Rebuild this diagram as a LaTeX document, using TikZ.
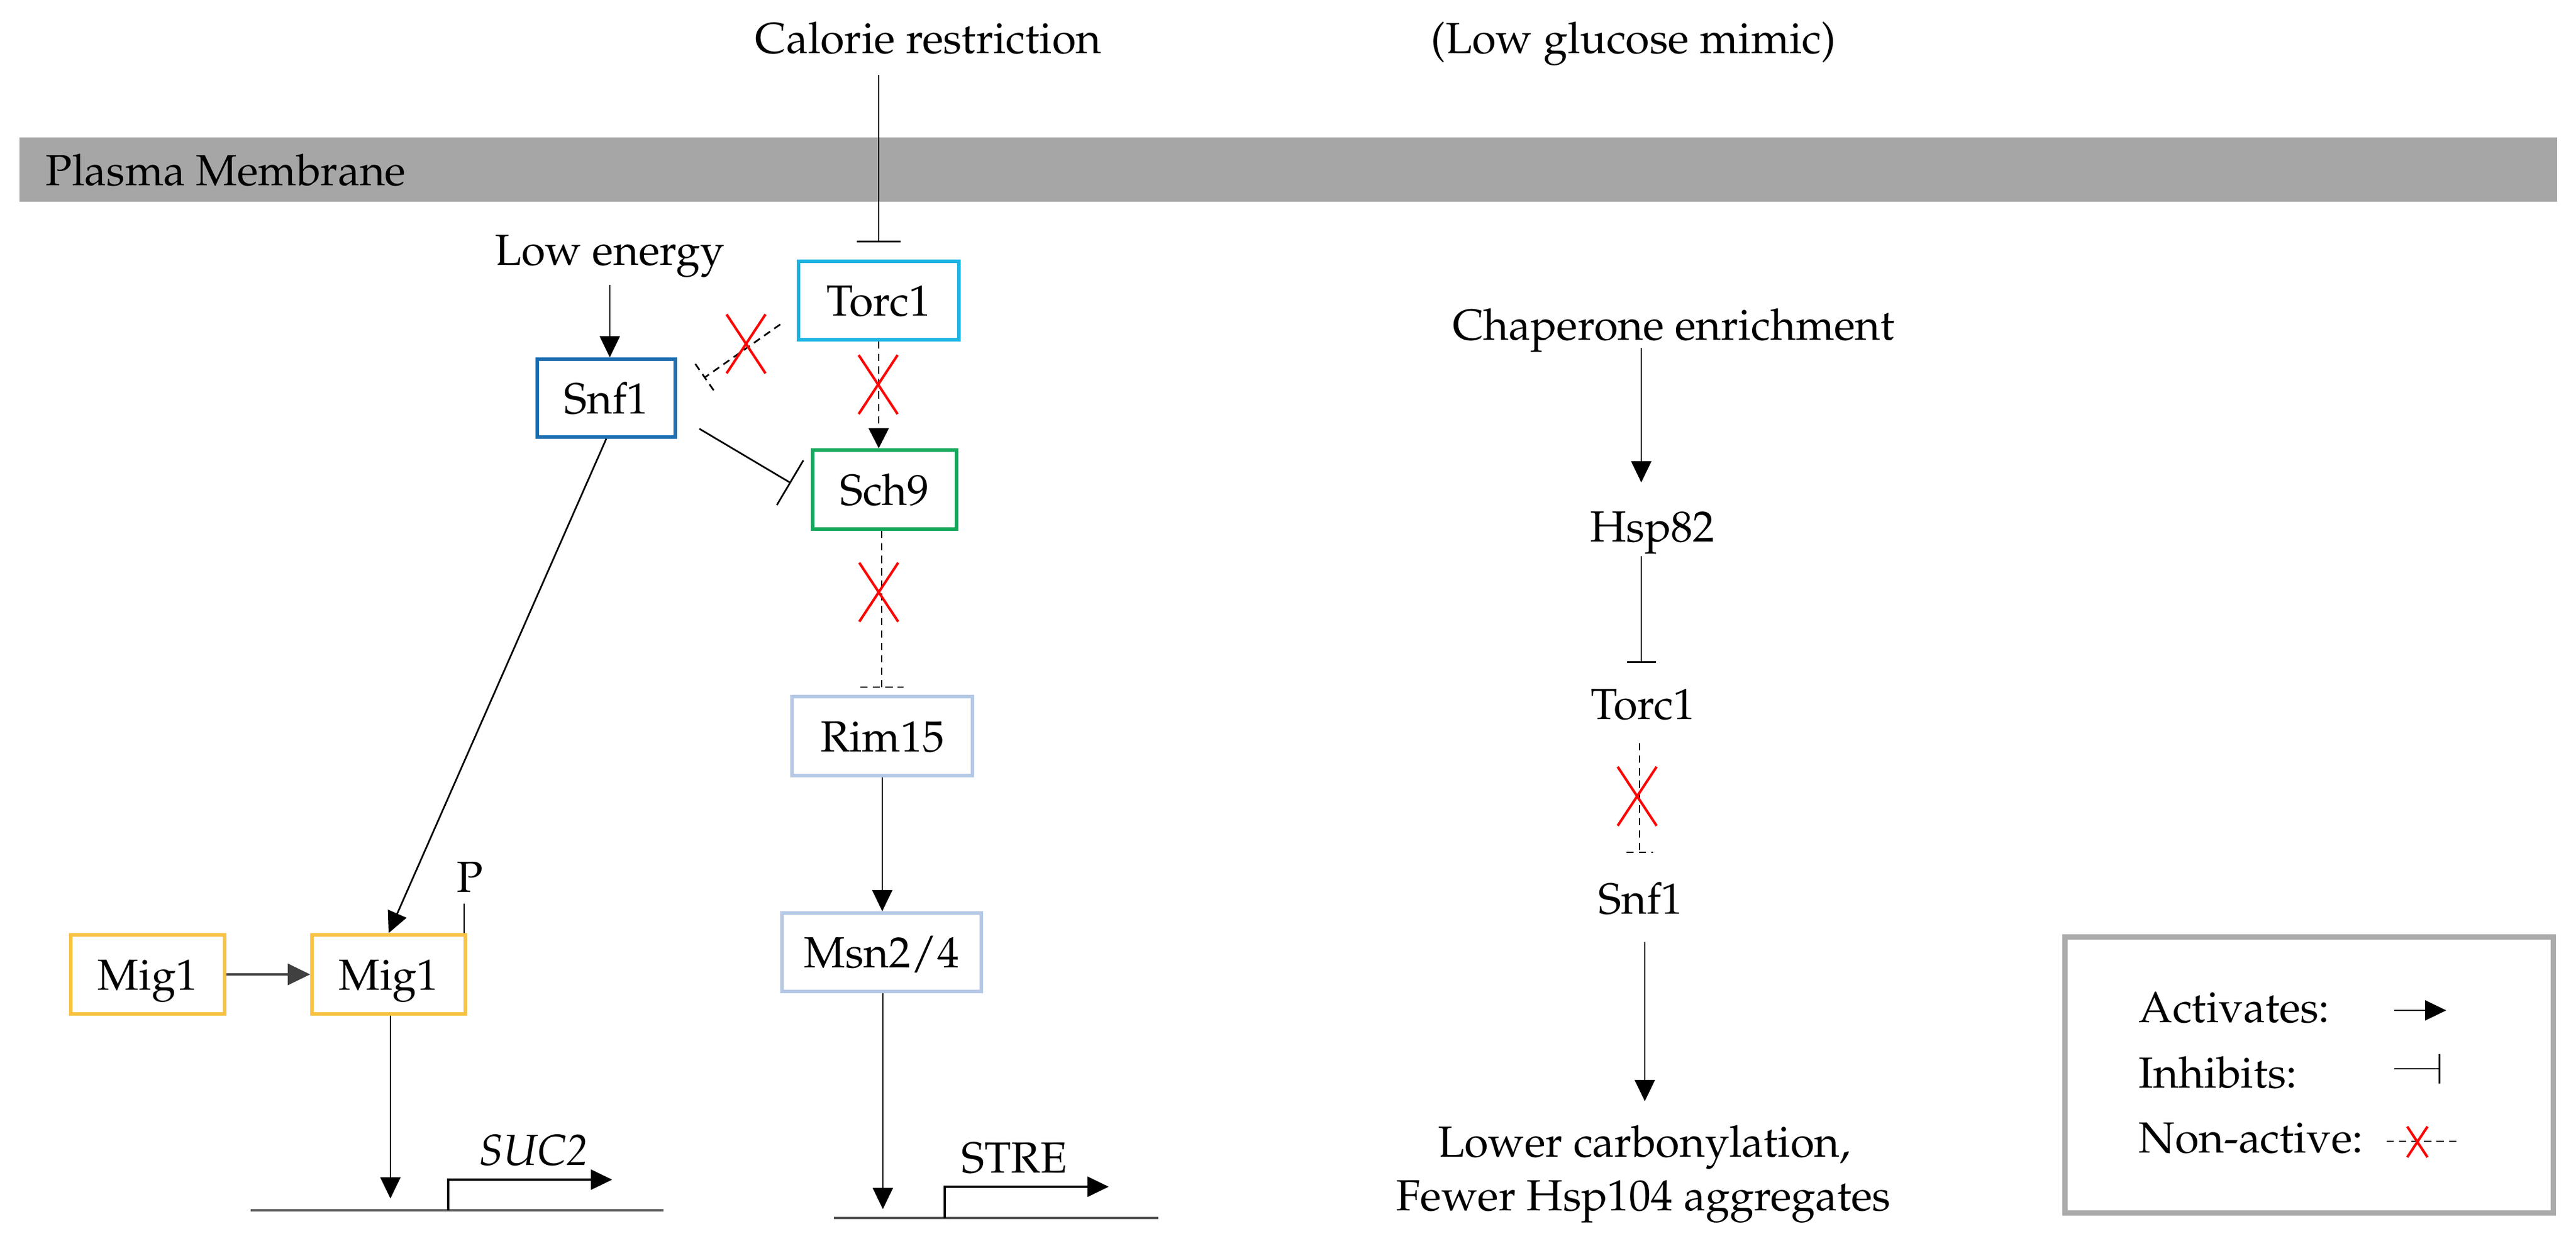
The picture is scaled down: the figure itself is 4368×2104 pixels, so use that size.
\documentclass[tikz,border=0pt]{standalone}
\usepackage[T1]{fontenc}
\usepackage{mathpazo}
\usetikzlibrary{arrows.meta,calc}
\definecolor{torcC}{HTML}{1EB4E2}
\definecolor{snfC}{HTML}{1C6EB2}
\definecolor{schC}{HTML}{14A85A}
\definecolor{rimC}{HTML}{B5C8E5}
\definecolor{migC}{HTML}{F8C244}
\definecolor{membC}{HTML}{A6A6A6}
\definecolor{legC}{HTML}{ABABAB}
\newcommand{\fs}{\fontsize{21}{25}\selectfont}
\begin{document}
\begin{tikzpicture}[x=0.01cm,y=-0.01cm,
  every node/.style={font=\fs, inner sep=0pt},
  box/.style={draw, line width=1.7pt, fill=white, text height=0.52cm, text depth=0pt},
  act/.style={line width=0.8pt, -{Triangle[length=0.36cm,width=0.34cm]}},
  inh/.style={line width=0.8pt},
  nact/.style={line width=0.8pt, dash pattern=on 3.5pt off 2.5pt},
  gene/.style={line width=1.4pt, draw=black!65},
  prom/.style={line width=0.9pt, -{Triangle[length=0.36cm,width=0.34cm]}},
  rx/.pic={\draw[red, line width=1.2pt] (-33,-50) -- (33,50) (33,-50) -- (-33,50);}
]
\useasboundingbox (0,0) rectangle (4368,2104);

% membrane
\fill[membC] (33,233) rectangle (4336,342);
\node[anchor=base west] (pm) at (77,315) {Plasma Membrane};

% top texts
\node[anchor=base] (cal) at (1574,91) {Calorie restriction};
\node[anchor=base] (lgm) at (2770,91) {(Low glucose mimic)};
\node[anchor=base] (low) at (1034,450) {Low energy};

% boxes
\node[box, draw=torcC, minimum width=2.71cm, minimum height=1.33cm] (torc) at (1490,509.5) {Torc1};
\node[box, draw=snfC, minimum width=2.34cm, minimum height=1.32cm] (snf) at (1028,675) {Snf1};
\node[box, draw=schC, minimum width=2.44cm, minimum height=1.34cm] (sch) at (1500,830) {Sch9};
\node[box, draw=rimC, minimum width=3.06cm, minimum height=1.34cm] (rim) at (1496,1248) {Rim15};
\node[box, draw=rimC, minimum width=3.38cm, minimum height=1.33cm] (msn) at (1495,1614.5) {Msn2/4};
\node[box, draw=migC, minimum width=2.61cm, minimum height=1.34cm] (migL) at (250.5,1652) {Mig1};
\node[box, draw=migC, minimum width=2.60cm, minimum height=1.34cm] (migR) at (659,1652) {Mig1};

% calorie restriction inhibits Torc1
\coordinate (cr1) at (1490,127);
\coordinate (cr2) at (1490,411);
\draw[inh, -{Bar[width=0.74cm]}] (cr1) -- (cr2);

% low energy -> Snf1
\coordinate (le1) at (1034,483);
\draw[act] (le1) -- (le1 |- snf.north);

% Torc1 -> Sch9 (non-active)
\draw[nact, -{Triangle[length=0.34cm,width=0.34cm]}] (torc.south) -- (torc.south |- sch.north);
\pic at (1489,652) {rx};

% Torc1 -| Snf1 (non-active)
\coordinate (ts1) at (1323,550);
\coordinate (ts2) at (1195,640);
\draw[nact] (ts1) -- (ts2);
\draw[nact] (1179,617) -- (1211,663);
\pic at (1265,583) {rx};

% Snf1 -| Sch9
\coordinate (ss1) at (1186,727);
\coordinate (ss2) at (1341,819);
\draw[inh, -{Bar[width=0.88cm]}] (ss1) -- (ss2);

% Snf1 -> Mig1
\draw[act] (snf.south) -- (migR.north);

% Sch9 -| Rim15 (non-active)
\coordinate (sr2) at (1495,1165);
\draw[nact] (sch.south -| sr2) -- (sr2);
\draw[nact] (1459,1165) -- (1532,1165);
\pic at (1490,1004) {rx};

% Rim15 -> Msn2/4 -> STRE
\draw[act] (rim.south) -- (rim.south |- msn.north);
\coordinate (ms2) at (1497,2050);
\draw[act] (msn.south -| ms2) -- (ms2);
\draw[gene] (1414,2065) -- (1964,2065);
\coordinate (st0) at (1602,2065);
\coordinate (st1) at (1880,2012);
\draw[prom] (st0) |- (st1);
\node[anchor=base] (stre) at (1720,1988) {STRE};

% Mig1 -> Mig1
\draw[line width=1.1pt, draw=black!75, -{Triangle[length=0.38cm,width=0.36cm]}] (migL.east) -- (migR.west);

% P
\node[anchor=base] (p) at (797,1512) {P};
\coordinate (pl) at (787,1532);
\draw[inh] (pl) -- (pl |- migR.north);

% Mig1 -> SUC2
\coordinate (mg2) at (662,2032);
\draw[act] (migR.south -| mg2) -- (mg2);
\draw[gene] (425,2052) -- (1125,2052);
\coordinate (su0) at (760,2052);
\coordinate (su1) at (1038,2000);
\draw[prom] (su0) |- (su1);
\node[anchor=base] (suc) at (905,1975) {\itshape SUC2};

% right pathway
\node[anchor=base] (chap) at (2838,577) {Chaperone enrichment};
\coordinate (ch1) at (2783,590);
\coordinate (ch2) at (2783,818);
\draw[act] (ch1) -- (ch2);
\node[anchor=base] (hsp) at (2802,919) {Hsp82};
\coordinate (hs1) at (2783,943);
\coordinate (hs2) at (2783,1124);
\draw[inh, -{Bar[width=0.49cm]}] (hs1) -- (hs2);
\node[anchor=base] (torc2) at (2786,1220) {Torc1};
\coordinate (tn1) at (2780,1260);
\coordinate (tn2) at (2780,1445);
\draw[nact] (tn1) -- (tn2);
\draw[nact] (2758,1445) -- (2803,1445);
\pic at (2776,1350) {rx};
\node[anchor=base] (snf2) at (2782,1549) {Snf1};
\coordinate (sn1) at (2789,1597);
\coordinate (sn2) at (2789,1867);
\draw[act] (sn1) -- (sn2);
\node[anchor=base] (out1) at (2788,1961) {Lower carbonylation,};
\node[anchor=base] (out2) at (2787,2052) {Fewer Hsp104 aggregates};

% legend
\node[draw=legC, line width=2.5pt, minimum width=8.28cm, minimum height=4.68cm] (leg) at (3915.5,1822.5) {};
\node[anchor=base west] (la) at (3626,1733) {Activates:};
\node[anchor=base west] (li) at (3626,1844) {Inhibits:};
\node[anchor=base west] (ln) at (3626,1954) {Non-active:};
\coordinate (a1) at (4060,1713);
\coordinate (a2) at (4148,1713);
\draw[act] (a1) -- (a2);
\coordinate (i1) at (4060,1812);
\coordinate (i2) at (4138,1812);
\draw[inh, -{Bar[width=0.5cm]}] (i1) -- (i2);
\coordinate (n1) at (4047,1935);
\coordinate (n2) at (4167,1935);
\draw[nact] (n1) -- (n2);
\pic[scale=0.52] at (4099,1936) {rx};
\end{tikzpicture}
\end{document}
